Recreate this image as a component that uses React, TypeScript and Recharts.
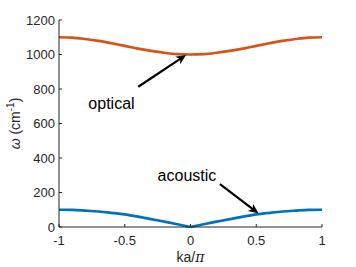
import { LineChart, Line, XAxis, YAxis, ReferenceLine, ReferenceDot } from "recharts";

// ka/pi sample points and branch frequencies (cm^-1)
const kValues = [-1, -0.9, -0.8, -0.7, -0.6, -0.5, -0.4, -0.3, -0.2, -0.1, 0, 0.1, 0.2, 0.3, 0.4, 0.5, 0.6, 0.7, 0.8, 0.9, 1];
const opticalValues = [1100, 1098, 1090, 1079, 1065, 1050, 1034, 1021, 1010, 1002, 1000, 1002, 1010, 1021, 1034, 1050, 1065, 1079, 1090, 1098, 1100];
const acousticValues = [100, 99, 95, 90, 82, 73, 60, 46, 31, 16, 0, 16, 31, 46, 60, 73, 82, 90, 95, 99, 100];

const xTicks = [-1, -0.5, 0, 0.5, 1];
const yTicks = [0, 200, 400, 600, 800, 1000, 1200];

// annotation arrows: [tail, head] in data units
const opticalArrow = [{ x: -0.397, y: 813 }, { x: -0.034, y: 997 }];
const acousticArrow = [{ x: 0.224, y: 249 }, { x: 0.516, y: 79 }];
const opticalLabel = { x: -0.601, y: 717, text: "optical" };
const acousticLabel = { x: -0.027, y: 301, text: "acoustic" };

// acoustic branch split at k=0 so the cusp stays sharp
const data = kValues.map((k, i) => ({
  k,
  optical: opticalValues[i],
  acousticLeft: k <= 0 ? acousticValues[i] : null,
  acousticRight: k >= 0 ? acousticValues[i] : null,
}));

const FONT = "'Liberation Sans', Arial, Helvetica, sans-serif";
const AXIS = "#262626";
const TICK_LEN = 3;

function BottomTick({ x, y, payload }: any) {
  return (
    <g>
      <line x1={x} y1={y} x2={x} y2={y - TICK_LEN} stroke={AXIS} />
      <text x={x} y={y + 18} textAnchor="middle" fontSize={13} fontFamily={FONT} fill={AXIS}>
        {payload.value}
      </text>
    </g>
  );
}

function TopTick({ x, y }: any) {
  return <line x1={x} y1={y} x2={x} y2={y + TICK_LEN} stroke={AXIS} />;
}

function LeftTick({ x, y, payload }: any) {
  return (
    <g>
      <line x1={x} y1={y} x2={x + TICK_LEN} y2={y} stroke={AXIS} />
      <text x={x - 4} y={y} dy="0.355em" textAnchor="end" fontSize={13} fontFamily={FONT} fill={AXIS}>
        {payload.value}
      </text>
    </g>
  );
}

function RightTick({ x, y }: any) {
  return <line x1={x} y1={y} x2={x - TICK_LEN} y2={y} stroke={AXIS} />;
}

function Arrow(props: any) {
  const { x1, y1, x2, y2 } = props;
  const dx = x2 - x1;
  const dy = y2 - y1;
  const len = Math.hypot(dx, dy);
  const ux = dx / len;
  const uy = dy / len;
  const headLen = 10;
  const headW = 4.5;
  const bx = x2 - ux * headLen;
  const by = y2 - uy * headLen;
  const nx = x2 - ux * headLen * 0.7;
  const ny = y2 - uy * headLen * 0.7;
  const pts = [
    `${x2},${y2}`,
    `${bx - uy * headW},${by + ux * headW}`,
    `${nx},${ny}`,
    `${bx + uy * headW},${by - ux * headW}`,
  ].join(" ");
  return (
    <g>
      <line x1={x1} y1={y1} x2={nx} y2={ny} stroke="#000" strokeWidth={2.2} />
      <polygon points={pts} fill="#000" />
    </g>
  );
}

export default function App() {
  return (
    <div style={{ position: "absolute", left: 0, top: 0, width: 356, height: 267, background: "#fff" }}>
      <LineChart width={356} height={267} data={data} margin={{ top: 20, right: 34, bottom: 0, left: 0 }}>
        <XAxis
          dataKey="k"
          type="number"
          domain={[-1, 1]}
          ticks={xTicks}
          stroke={AXIS}
          tickSize={0}
          tickMargin={0}
          tick={<BottomTick />}
          height={40}
          label={({ viewBox }: any) => (
            <text
              x={viewBox.x + viewBox.width / 2}
              y={262}
              textAnchor="middle"
              fontSize={14}
              fontFamily={FONT}
              fill={AXIS}
            >
              ka/<tspan fontStyle="italic" fontFamily="'DejaVu Serif', serif">π</tspan>
            </text>
          )}
        />
        <XAxis
          xAxisId="top"
          orientation="top"
          dataKey="k"
          type="number"
          domain={[-1, 1]}
          ticks={xTicks}
          stroke={AXIS}
          tickSize={0}
          tickMargin={0}
          tick={<TopTick />}
          height={0}
        />
        <YAxis
          type="number"
          domain={[0, 1200]}
          ticks={yTicks}
          stroke={AXIS}
          tickSize={0}
          tickMargin={0}
          tick={<LeftTick />}
          width={59}
          label={({ viewBox }: any) => {
            const cy = viewBox.y + viewBox.height / 2;
            return (
              <text
                x={20}
                y={cy}
                transform={`rotate(-90 20 ${cy})`}
                textAnchor="middle"
                fontSize={14}
                fontFamily={FONT}
                fill={AXIS}
              >
                <tspan fontStyle="italic">ω</tspan> (cm
                <tspan dy={-6} fontSize={10}>-1</tspan>
                <tspan dy={6}>)</tspan>
              </text>
            );
          }}
        />
        <YAxis
          yAxisId="right"
          orientation="right"
          type="number"
          domain={[0, 1200]}
          ticks={yTicks}
          stroke={AXIS}
          tickSize={0}
          tickMargin={0}
          tick={<RightTick />}
          width={0}
        />
        <Line
          dataKey="optical"
          type="monotone"
          stroke="#D95319"
          strokeWidth={2.7}
          dot={false}
          isAnimationActive={false}
        />
        <Line
          dataKey="acousticLeft"
          type="monotone"
          stroke="#0072BD"
          strokeWidth={2.7}
          dot={false}
          connectNulls={false}
          isAnimationActive={false}
        />
        <Line
          dataKey="acousticRight"
          type="monotone"
          stroke="#0072BD"
          strokeWidth={2.7}
          dot={false}
          connectNulls={false}
          isAnimationActive={false}
        />
        <ReferenceLine segment={opticalArrow} shape={<Arrow />} />
        <ReferenceLine segment={acousticArrow} shape={<Arrow />} />
        <ReferenceDot
          x={opticalLabel.x}
          y={opticalLabel.y}
          r={0}
          fill="none"
          stroke="none"
          label={{ value: opticalLabel.text, position: "center", fontSize: 16, fontFamily: FONT, fill: "#000" }}
        />
        <ReferenceDot
          x={acousticLabel.x}
          y={acousticLabel.y}
          r={0}
          fill="none"
          stroke="none"
          label={{ value: acousticLabel.text, position: "center", fontSize: 16, fontFamily: FONT, fill: "#000" }}
        />
      </LineChart>
    </div>
  );
}
